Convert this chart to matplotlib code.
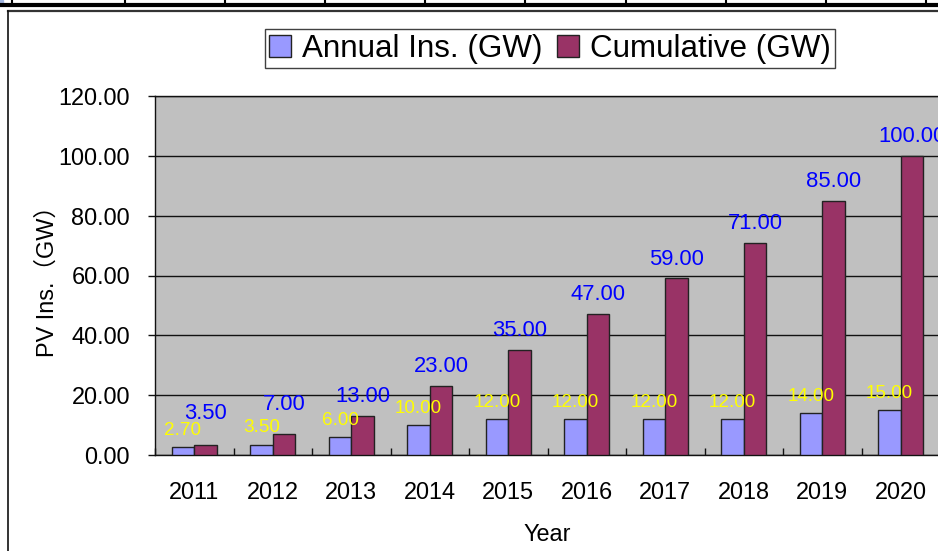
import matplotlib
matplotlib.use("Agg")
import matplotlib.pyplot as plt
from matplotlib.lines import Line2D
from matplotlib.patches import Rectangle
import numpy as np

plt.rcParams['font.family'] = ['Liberation Sans', 'Noto Sans CJK SC', 'DejaVu Sans']

years = ['2011', '2012', '2013', '2014', '2015', '2016', '2017', '2018', '2019', '2020']
annual = [2.70, 3.50, 6.00, 10.00, 12.00, 12.00, 12.00, 12.00, 14.00, 15.00]
cumulative = [3.50, 7.00, 13.00, 23.00, 35.00, 47.00, 59.00, 71.00, 85.00, 100.00]
yticks = [0, 20, 40, 60, 80, 100, 120]

# label vertical offsets (points) - styling
cum_label_dy = [22, 21, 14, 14, 14, 14, 14, 14, 14, 14]
ann_label_dy = 6

W, H = 938, 551
fig = plt.figure(figsize=(W / 100, H / 100), dpi=100)
fig.patch.set_facecolor('white')

# axes placement in pixels
left, right, top, bottom = 155, 940, 96, 455
ax = fig.add_axes([left / W, (H - bottom) / H, (right - left) / W, (bottom - top) / H])
ax.set_facecolor('#c0c0c0')

x = np.arange(len(years))
bw = 0.288
b1 = ax.bar(x - bw / 2, annual, bw, color='#9999ff', edgecolor='#222222', linewidth=1.0, zorder=3,
            label='Annual Ins. (GW)')
b2 = ax.bar(x + bw / 2, cumulative, bw, color='#993366', edgecolor='#222222', linewidth=1.0, zorder=3,
            label='Cumulative (GW)')

TS = 16.9
ax.set_xlim(-0.5, len(years) - 0.5)
ax.set_ylim(0, 120)
ax.set_yticks(yticks)
ax.set_yticklabels([f'{v:.2f}' for v in yticks], fontsize=TS)
ax.yaxis.grid(True, color='#111111', linewidth=1.0, zorder=1)
ax.set_axisbelow(True)

ax.set_xticks(x)
ax.set_xticklabels(years, fontsize=TS)
ax.set_xticks(np.arange(len(years) + 1) - 0.5, minor=True)
ax.tick_params(axis='x', which='major', length=0, pad=18.5)
ax.tick_params(axis='x', which='minor', direction='in', length=5, width=1, color='#111111')
ax.tick_params(axis='y', direction='out', length=5, width=1, color='#111111', pad=13)

for s in ax.spines.values():
    s.set_color('#111111')
    s.set_linewidth(1.0)

for xi, v in zip(x, annual):
    ax.annotate(f'{v:.2f}', (xi - bw / 2, v), xytext=(0, ann_label_dy), textcoords='offset points',
                ha='center', va='bottom', color='#ffff00', fontsize=13.6, zorder=5)
for xi, v, dy in zip(x, cumulative, cum_label_dy):
    ax.annotate(f'{v:.2f}', (xi + bw / 2, v), xytext=(0, dy), textcoords='offset points',
                ha='center', va='center', color='#0000ff', fontsize=15.8, zorder=5,
                annotation_clip=False)

ax.set_xlabel('Year', fontsize=TS, labelpad=14)
ax.set_ylabel('PV Ins.（GW）', fontsize=TS, labelpad=0)

leg = fig.legend(handles=[b1, b2], loc='center', bbox_to_anchor=(550 / W, 1 - 48.5 / H),
                 ncol=2, fontsize=22.6, frameon=True, fancybox=False, edgecolor='#111111',
                 handlelength=0.7, handleheight=0.7, handletextpad=0.35, columnspacing=0.45,
                 borderpad=0.15, borderaxespad=0)
leg.get_frame().set_linewidth(1.0)

# chart border and top strip decorations
def px_line(x0, y0, x1, y1, **kw):
    fig.add_artist(Line2D([x0 / W, x1 / W], [1 - y0 / H, 1 - y1 / H], transform=fig.transFigure, **kw))

px_line(8, 11, 938, 11, color='#333333', linewidth=1.6)
px_line(8, 11, 8, 551, color='#111111', linewidth=1.2)
px_line(0, 4.5, 938, 4.5, color='black', linewidth=3.0)
for tx in [12, 125, 225, 325, 425, 525, 626, 726, 826, 926]:
    px_line(tx, 0, tx, 4, color='black', linewidth=1.5)
fig.add_artist(Rectangle((0, 1 - 3 / H), 3 / W, 3 / H, transform=fig.transFigure, color='#a0b4e0'))

fig.savefig('out.png', dpi=100)
